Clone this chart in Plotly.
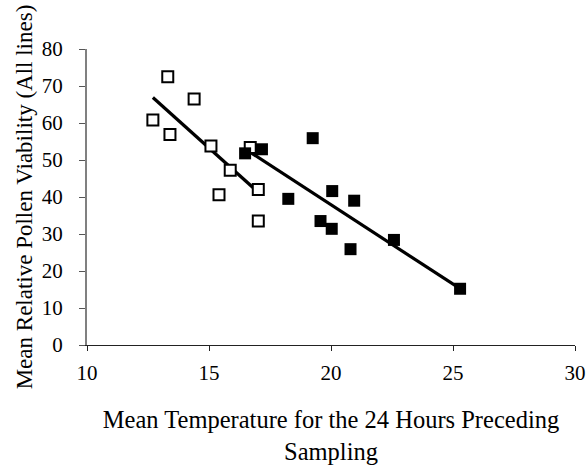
import numpy as np
import plotly.graph_objects as go

# Open squares (first group)
open_x = [12.70, 13.31, 13.40, 14.39, 15.08, 15.41, 15.87, 16.69, 17.02, 17.02]
open_y = [60.8, 72.5, 56.9, 66.5, 53.8, 40.6, 47.2, 53.4, 42.0, 33.5]

# Filled squares (second group)
fill_x = [16.48, 17.17, 18.25, 19.25, 19.57, 20.03, 20.05, 20.80, 20.95, 22.58, 25.29]
fill_y = [51.8, 52.9, 39.5, 55.9, 33.5, 31.4, 41.6, 25.9, 39.0, 28.4, 15.2]

x_ticks = [10, 15, 20, 25, 30]
y_ticks = [0, 10, 20, 30, 40, 50, 60, 70, 80]


def fit_line(xs, ys):
    m, b = np.polyfit(xs, ys, 1)
    xx = np.array([min(xs), max(xs)])
    return xx, m * xx + b


ox, oy = fit_line(open_x, open_y)
fx, fy = fit_line(fill_x, fill_y)

FONT = "Liberation Serif"

fig = go.Figure()
fig.add_trace(go.Scatter(x=ox, y=oy, mode="lines", line=dict(color="black", width=3.2),
                         showlegend=False, hoverinfo="skip"))
fig.add_trace(go.Scatter(x=fx, y=fy, mode="lines", line=dict(color="black", width=3.2),
                         showlegend=False, hoverinfo="skip"))
fig.add_trace(go.Scatter(x=open_x, y=open_y, mode="markers",
                         marker=dict(symbol="square", size=11, color="white",
                                     line=dict(color="black", width=2)),
                         showlegend=False))
fig.add_trace(go.Scatter(x=fill_x, y=fill_y, mode="markers",
                         marker=dict(symbol="square", size=12, color="black",
                                     line=dict(color="black", width=0)),
                         showlegend=False))

fig.update_layout(
    width=586, height=465,
    margin=dict(l=87, r=11, t=49, b=120),
    paper_bgcolor="white", plot_bgcolor="white",
    font=dict(family=FONT, color="black", size=21),
)
fig.update_xaxes(
    range=[10, 30], tickvals=x_ticks, ticktext=[str(v) for v in x_ticks],
    showgrid=False, zeroline=False, showline=True, linecolor="#222222", linewidth=1,
    ticks="outside", ticklen=5, tickcolor="#222222", tickwidth=1,
    ticklabelstandoff=4, tickfont=dict(family=FONT, size=21, color="black"),
    automargin=False,
    title=dict(text="Mean Temperature for the 24 Hours Preceding<br>Sampling",
               font=dict(family=FONT, size=24.5, color="black"), standoff=26),
)
fig.update_yaxes(
    range=[0, 80], tickvals=y_ticks, ticktext=[str(v) for v in y_ticks],
    showgrid=False, zeroline=False, showline=True, linecolor="#808080", linewidth=2,
    ticks="outside", ticklen=6, tickcolor="#555555", tickwidth=1,
    ticklabelstandoff=12, tickfont=dict(family=FONT, size=21, color="black"),
    automargin=False,
    title=dict(text="Mean Relative Pollen Viability (All lines)",
               font=dict(family=FONT, size=23, color="black"), standoff=3),
)

fig.write_html("out.html")
